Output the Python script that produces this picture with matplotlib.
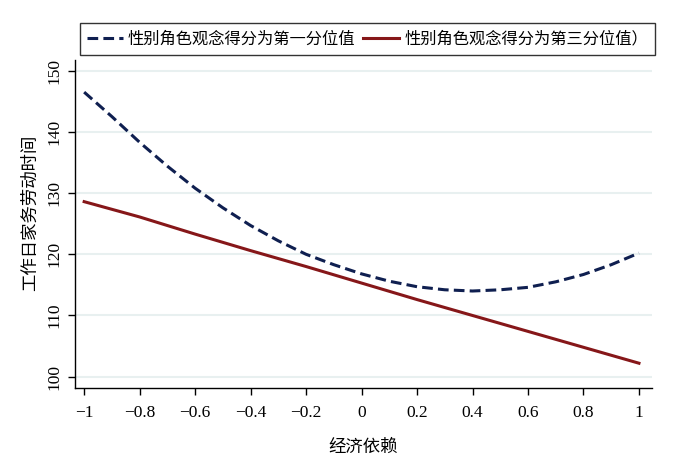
import numpy as np
import matplotlib
matplotlib.use("Agg")
import matplotlib.pyplot as plt

# values
x_q1 = [-1.0, -0.9, -0.8, -0.7, -0.6, -0.5, -0.4, -0.3, -0.2, -0.1, 0.0,
        0.1, 0.2, 0.3, 0.4, 0.5, 0.6, 0.7, 0.8, 0.9, 1.0]
y_q1 = [146.5, 142.5, 138.3, 134.4, 130.8, 127.6, 124.7, 122.2, 120.0, 118.3, 116.8,
        115.6, 114.7, 114.2, 114.0, 114.2, 114.6, 115.5, 116.7, 118.3, 120.2]

x_q3 = [-1.0, -0.8, -0.6, -0.4, -0.2, 0.0, 0.2, 0.4, 0.6, 0.8, 1.0]
y_q3 = [128.6, 126.1, 123.3, 120.6, 118.0, 115.3, 112.6, 110.0, 107.4, 104.8, 102.2]

label_q1 = "性别角色观念得分为第一分位值"
label_q3 = "性别角色观念得分为第三分位值）"
x_ticks = [-1, -0.8, -0.6, -0.4, -0.2, 0, 0.2, 0.4, 0.6, 0.8, 1]
x_ticklabels = ["\u22121", "\u22120.8", "\u22120.6", "\u22120.4", "\u22120.2", "0",
                "0.2", "0.4", "0.6", "0.8", "1"]
y_ticks = [100, 110, 120, 130, 140, 150]

navy = "#0f1f50"
maroon = "#861719"
cjk = ["Noto Sans CJK SC", "DejaVu Sans"]
serif = ["Liberation Serif", "DejaVu Serif"]

fig = plt.figure(figsize=(7, 4.76), dpi=100)
ax = fig.add_axes([75/700, 1 - 388/476, (652-75)/700, (388-60)/476])

for yt in y_ticks:
    ax.axhline(yt, color="#e8f0f0", lw=1.5, zorder=0)

ax.plot(x_q1, y_q1, color=navy, lw=2.2, dashes=(3.5, 1.7), label=label_q1)
ax.plot(x_q3, y_q3, color=maroon, lw=2.2, label=label_q3)

ax.set_xlim(-1.033, 1.047)
ax.set_ylim(98.15, 151.75)

ax.spines["top"].set_visible(False)
ax.spines["right"].set_visible(False)
ax.spines["left"].set_linewidth(1.0)
ax.spines["bottom"].set_linewidth(1.0)

ax.set_xticks(x_ticks)
ax.set_xticklabels(x_ticklabels, fontfamily=serif, fontsize=12.5)
ax.set_yticks(y_ticks)
ax.set_yticklabels([str(v) for v in y_ticks], fontfamily=serif, fontsize=12.5,
                   rotation=90, va="center")
ax.tick_params(axis="both", length=5, width=1, direction="out")
ax.tick_params(axis="x", pad=7.5)
ax.tick_params(axis="y", pad=4)

ax.set_xlabel("经济依赖", fontfamily=cjk, fontsize=12.5, labelpad=12)
ax.set_ylabel("工作日家务劳动时间", fontfamily=cjk, fontsize=12.5)
ax.yaxis.set_label_coords(-0.063, 0.534)

leg = fig.legend(loc="center", bbox_to_anchor=(367.5/700, 1 - 39/476), ncol=2,
                 prop={"family": cjk, "size": 11.7}, frameon=True, fancybox=False,
                 handlelength=2.2, handletextpad=0.3, columnspacing=0.5,
                 borderpad=0.45, borderaxespad=0)
leg.get_frame().set_edgecolor("black")
leg.get_frame().set_linewidth(1.0)

fig.savefig("out.png", dpi=100)
